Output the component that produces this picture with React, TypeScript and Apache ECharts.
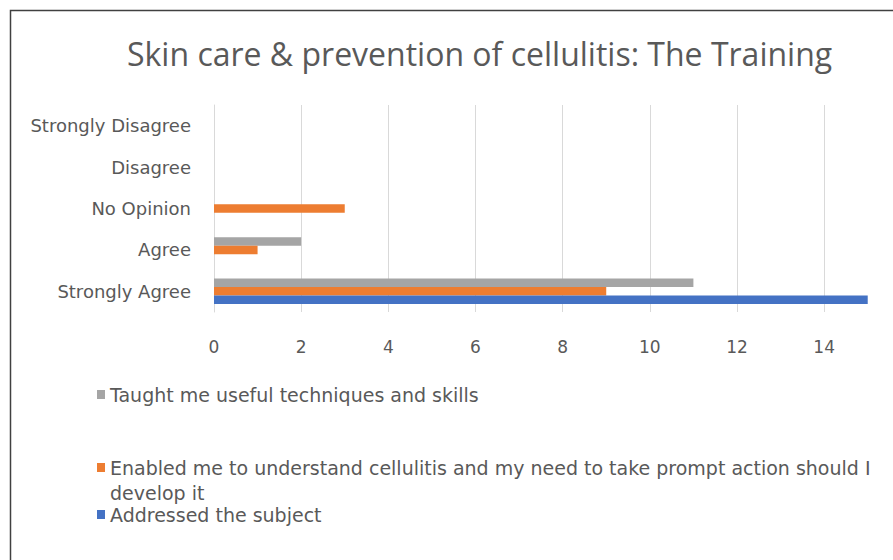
import React, { useEffect, useRef } from "react";
import * as echarts from "echarts";

const categories = ["Strongly Agree", "Agree", "No Opinion", "Disagree", "Strongly Disagree"];
const addressed = [15, 0, 0, 0, 0];
const enabled = [9, 1, 3, 0, 0];
const taught = [11, 2, 0, 0, 0];
const xTicks = [0, 2, 4, 6, 8, 10, 12, 14];

const NAME_ADDR = "Addressed the subject";
const NAME_EN = "Enabled me to understand cellulitis and my need to take prompt action should I develop it";
const NAME_TA = "Taught me useful techniques and skills";
const EN_LINE1 = "Enabled me to understand cellulitis and my need to take prompt action should I";
const EN_LINE2 = "develop it";

const FONT = "DejaVu Sans";
const TITLE_FONT = "Open Sans";
const TXT = "#595959";

export default function App() {
  const ref = useRef<HTMLDivElement>(null);
  useEffect(() => {
    const chart = echarts.init(ref.current!, undefined, { renderer: "svg" });
    const legendBase = {
      orient: "vertical" as const,
      left: 92,
      itemWidth: 8,
      itemHeight: 9,
      icon: "rect",
      selectedMode: false,
      textStyle: { fontFamily: FONT, fontSize: 19, color: TXT },
    };
    chart.setOption({
      animation: false,
      backgroundColor: "#ffffff",
      title: {
        text: "Skin care & prevention of cellulitis: The Training",
        left: 122,
        top: 32,
        textStyle: { fontFamily: TITLE_FONT, fontSize: 32, fontWeight: "normal", color: TXT },
      },
      grid: { left: 214, right: 0, top: 105, bottom: 248, containLabel: false },
      xAxis: {
        type: "value",
        min: 0,
        max: 15.58,
        interval: 2,
        axisLine: { show: false },
        axisTick: { show: false },
        axisLabel: {
          fontFamily: FONT,
          fontSize: 17,
          color: TXT,
          margin: 26,
          showMaxLabel: false,
          formatter: (v: number) => (xTicks.includes(v) ? String(v) : ""),
        },
        splitLine: { show: true, showMaxLine: false, lineStyle: { color: "#d9d9d9", width: 1 } },
      },
      yAxis: {
        type: "category",
        data: categories,
        axisLine: { show: true, lineStyle: { color: "#d9d9d9", width: 1 } },
        axisTick: { show: false },
        axisLabel: { fontFamily: FONT, fontSize: 18, color: TXT, margin: 23 },
      },
      legend: [
        { ...legendBase, top: 380, data: [NAME_TA] },
        { ...legendBase, top: 453, data: [NAME_EN], formatter: () => EN_LINE1 },
        { ...legendBase, top: 500, data: [NAME_ADDR] },
      ],
      series: [
        { name: NAME_TA, type: "bar", data: taught, barWidth: 8.5, barGap: "0%", itemStyle: { color: "#a5a5a5" } },
        { name: NAME_EN, type: "bar", data: enabled, barWidth: 8.5, barGap: "0%", itemStyle: { color: "#ed7d31" } },
        { name: NAME_ADDR, type: "bar", data: addressed, barWidth: 8.5, barGap: "0%", itemStyle: { color: "#4472c4" } },
      ],
      graphic: [
        {
          type: "rect",
          shape: { x: 10.5, y: 10.5, width: 1200, height: 1200 },
          style: { fill: "none", stroke: "#404040", lineWidth: 1.5 },
          silent: true,
        },
        {
          type: "text",
          left: 110,
          top: 483,
          style: { text: EN_LINE2, fontFamily: FONT, fontSize: 19, fill: TXT },
          silent: true,
        },
      ],
    });
    return () => chart.dispose();
  }, []);
  return (
    <div
      ref={ref}
      style={{ position: "absolute", left: 0, top: 0, width: 893, height: 560, background: "#fff" }}
    />
  );
}
